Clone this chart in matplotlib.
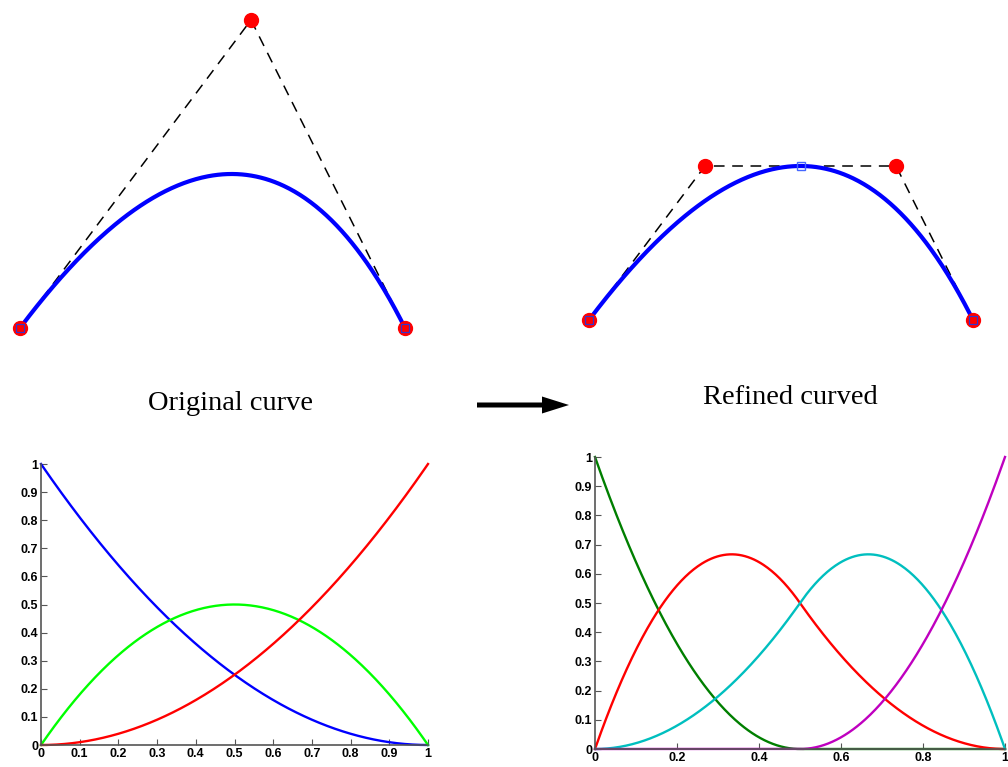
import numpy as np
import matplotlib.pyplot as plt

# control points of the original curve (pixel space of the sheet)
orig_x = [20, 251, 405]
orig_y = [328, 20, 328]
orig_knots = [0, 0, 0, 1, 1, 1]

# control points after inserting knot 0.5
ref_x = [589, 705, 896, 973]
ref_y = [320, 166, 166, 320]
ref_knots = [0, 0, 0, 0.5, 1, 1, 1]

degree = 2
left_colors = ['#0000ff', '#00ff00', '#ff0000']
right_colors = ['#007f00', '#ff0000', '#00bfbf', '#bf00bf']
left_xticks = np.arange(0, 1.01, 0.1)
right_xticks = np.arange(0, 1.01, 0.2)
yticks = np.arange(0, 1.01, 0.1)


def basis(knots, i, p, t):
    # Cox - de Boor recursion
    if p == 0:
        last = knots[i + 1] == knots[-1] and knots[i] < knots[i + 1]
        if last:
            return ((t >= knots[i]) & (t <= knots[i + 1])).astype(float)
        return ((t >= knots[i]) & (t < knots[i + 1])).astype(float)
    out = np.zeros_like(t)
    d1 = knots[i + p] - knots[i]
    d2 = knots[i + p + 1] - knots[i + 1]
    if d1 > 0:
        out += (t - knots[i]) / d1 * basis(knots, i, p - 1, t)
    if d2 > 0:
        out += (knots[i + p + 1] - t) / d2 * basis(knots, i + 1, p - 1, t)
    return out


def curve(knots, px, py, t):
    n = len(px)
    B = [basis(knots, i, degree, t) for i in range(n)]
    cx = sum(B[i] * px[i] for i in range(n))
    cy = sum(B[i] * py[i] for i in range(n))
    return cx, cy


def fmt(v):
    s = '%g' % round(v, 2)
    return s


t = np.linspace(0, 1, 400)

fig = plt.figure(figsize=(10.08, 7.67), dpi=100)

# top part drawn in pixel coordinates
top = fig.add_axes([0, 0, 1, 1])
top.set_xlim(0, 1008)
top.set_ylim(767, 0)
top.axis('off')

for px, py, knots in [(orig_x, orig_y, orig_knots), (ref_x, ref_y, ref_knots)]:
    top.plot(px, py, '--', color='black', lw=1.1, dashes=(7, 5), zorder=2)
    cx, cy = curve(knots, px, py, t)
    top.plot(cx, cy, color='#0000ff', lw=3.0, zorder=3)
    top.plot(px, py, 'o', color='#ff0000', ms=10, mec='#ff0000', zorder=4)
    top.plot([px[0], px[-1]], [py[0], py[-1]], 's', ms=5.5, mfc='#ff0000',
             mec='#3333cc', mew=0.9, zorder=5)

# knot point on the refined curve
kx, ky = curve(ref_knots, ref_x, ref_y, np.array([0.5]))
top.plot(kx, ky, 's', ms=6, mfc='none', mec='#4466ff', mew=1.0, zorder=5)

top.text(230, 404, 'Original curve', ha='center', va='center',
         family='Liberation Serif', fontsize=20.5)
top.text(790, 397, 'Refined curved', ha='center', va='center',
         family='Liberation Serif', fontsize=20.5)
top.arrow(477, 405, 92, 0, width=5, head_width=17, head_length=27,
          length_includes_head=True, color='black', lw=0)


def basis_axes(rect, knots, colors, xticks):
    ax = fig.add_axes(rect)
    n = len(knots) - degree - 1
    for i in range(n):
        ax.plot(t, basis(knots, i, degree, t), color=colors[i], lw=1.7,
                clip_on=False)
    ax.set_xlim(0, 1)
    ax.set_ylim(0, 1)
    ax.spines['top'].set_visible(False)
    ax.spines['right'].set_visible(False)
    for s in ['left', 'bottom']:
        ax.spines[s].set_color('#555555')
        ax.spines[s].set_linewidth(1.2)
    ax.set_xticks(xticks)
    ax.set_yticks(yticks)
    ax.set_xticklabels([fmt(v) for v in xticks])
    ax.set_yticklabels([fmt(v) for v in yticks])
    ax.tick_params(direction='in', length=4, width=0.8, pad=2,
                   labelsize=9, color='#555555')
    for lab in ax.get_xticklabels() + ax.get_yticklabels():
        lab.set_fontweight('bold')
        lab.set_family('Liberation Sans')
    ax.patch.set_alpha(0)
    return ax


basis_axes([41 / 1008, 22 / 767, 387 / 1008, 281 / 767], orig_knots,
           left_colors, left_xticks)
basis_axes([595 / 1008, 18 / 767, 410 / 1008, 292 / 767], ref_knots,
           right_colors, right_xticks)

fig.savefig('out.png', dpi=100)
